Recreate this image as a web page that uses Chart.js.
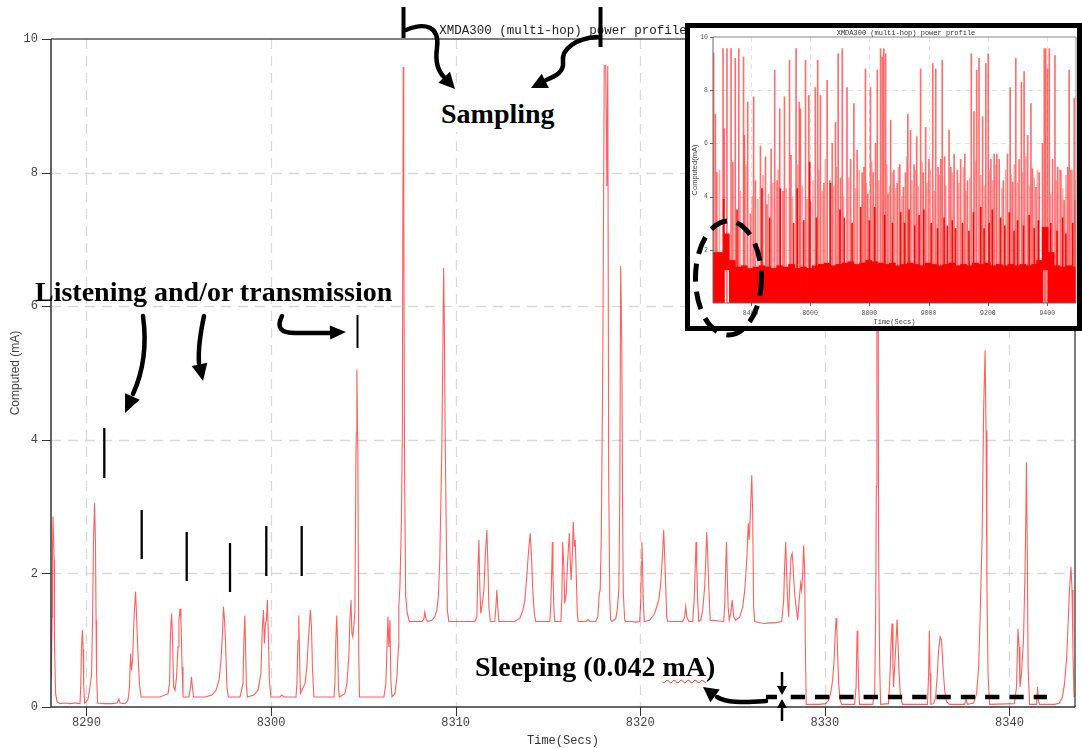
<!DOCTYPE html>
<html>
<head>
<meta charset="utf-8">
<script src="https://cdn.jsdelivr.net/npm/chart.js@4.4.1/dist/chart.umd.min.js"></script>
<style>
html,body{margin:0;padding:0;background:#fff;}
#wrap{position:relative;width:1082px;height:748px;overflow:hidden;background:#fff;}
#main{position:absolute;left:0;top:0;}
#title{position:absolute;left:339px;top:24px;width:448px;text-align:center;font-family:"Liberation Mono","DejaVu Sans Mono",monospace;font-size:12.5px;line-height:14px;color:#222;white-space:nowrap;}
.lbl{position:absolute;font-family:"Liberation Serif","Times New Roman",serif;font-weight:bold;font-size:28px;line-height:28px;color:#000;white-space:nowrap;}
#sampBox{position:absolute;left:422px;top:87px;width:161px;height:45px;background:#fff;}
#inset{position:absolute;left:685px;top:23px;width:397px;height:308px;box-sizing:border-box;border:5px solid #000;background:#fff;}
#insetCanvas{position:absolute;left:0;top:0;}
#insetTitle{position:absolute;left:0;top:1px;width:387px;padding-left:45px;box-sizing:border-box;text-align:center;font-family:"Liberation Mono","DejaVu Sans Mono",monospace;font-size:7px;line-height:8px;color:#333;white-space:nowrap;}
#overlay{position:absolute;left:0;top:0;pointer-events:none;}
.mA{text-decoration:underline wavy #e03030;text-decoration-thickness:1px;text-underline-offset:3px;}
</style>
</head>
<body>
<div id="wrap">
  <canvas id="main" width="1082" height="748"></canvas>
  <div id="title">XMDA300 (multi-hop) power profile</div>
  <div id="sampBox"></div>
  <div class="lbl" style="left:441px;top:100px;">Sampling</div>
  <div class="lbl" style="left:35px;top:278px;">Listening and/or transmission</div>
  <div class="lbl" style="left:475px;top:653px;">Sleeping (0.042 <span class="mA">mA</span>)</div>
  <div id="inset">
    <canvas id="insetCanvas" width="387" height="298"></canvas>
    <div id="insetTitle">XMDA300 (multi-hop) power profile</div>
  </div>
  <canvas id="overlay" width="1082" height="748"></canvas>
</div>
<script>
// ---------------- main chart data ----------------
const mainTime = [
8288.08,8288.11,8288.14,8288.16,8288.19,8288.25,8288.27,8288.33,8288.41,8288.57,8288.84,8289.11,8289.38,8289.65,8289.69,8289.73,8289.78,8289.82,8289.85,8289.90,8289.98,
8290.09,8290.19,8290.28,8290.33,8290.38,8290.44,8290.49,8290.52,8290.55,8290.60,8291.01,8291.39,8291.66,8291.76,8291.82,8292.09,8292.25,8292.33,8292.39,8292.44,8292.50,
8292.58,8292.66,8292.71,8292.79,8292.87,8292.96,8293.44,8293.98,8294.42,8294.50,8294.55,8294.61,8294.66,8294.72,8294.80,8294.88,8294.96,8295.01,8295.07,8295.12,8295.18,
8295.23,8295.55,8295.64,8295.69,8295.74,8295.80,8296.42,8296.80,8297.02,8297.18,8297.29,8297.37,8297.42,8297.48,8297.53,8297.61,8297.69,8298.32,8298.48,8298.53,8298.58,
8298.61,8298.66,8298.72,8299.07,8299.29,8299.45,8299.53,8299.59,8299.64,8299.70,8299.75,8299.80,8299.86,8299.91,8299.99,8300.48,8300.59,8300.70,8301.35,8301.40,8301.46,
8301.50,8301.54,8301.59,8301.67,8301.84,8301.94,8302.02,8302.08,8302.13,8302.19,8302.24,8302.32,8303.41,8303.46,8303.51,8303.56,8303.60,8303.65,8303.70,8304.00,8304.11,
8304.22,8304.27,8304.33,8304.38,8304.43,8304.54,8304.60,8304.62,8304.65,8304.70,8304.75,8304.79,8306.11,8306.22,8306.27,8306.33,8306.38,8306.44,8306.49,8306.55,8306.71,
8306.82,8306.90,8306.92,8306.98,8307.06,8307.11,8307.16,8307.19,8307.23,8307.29,8307.38,8307.49,8307.57,
8308.17,8308.28,8308.33,8308.39,8308.49,8308.71,8308.87,8308.98,8309.06,8309.14,8309.20,8309.25,8309.31,8309.35,8309.39,8309.44,8309.50,8309.55,8309.63,
8311.04,8311.15,8311.20,8311.26,8311.31,8311.36,8311.42,8311.53,8311.61,8311.69,8311.74,8311.80,8311.88,8312.12,8312.18,8312.23,8312.28,8312.34,
8313.20,8313.48,8313.64,8313.75,8313.85,8313.94,8314.04,8314.10,8314.18,8314.26,8314.34,8315.10,8315.15,8315.20,8315.24,8315.27,8315.32,8315.37,
8315.70,8315.75,8315.80,8315.86,8315.91,8315.99,8316.07,8316.16,8316.21,8316.26,8316.32,8316.37,8316.43,8316.48,8316.53,8316.59,8316.64,
8317.05,8317.16,8317.27,8317.59,8317.70,8317.78,8317.83,8317.89,8317.97,8318.05,8318.13,8318.19,8318.24,8318.29,8318.35,8318.40,8318.46,
8318.67,8318.75,8318.84,8318.89,8318.94,8319.00,8319.04,8319.08,8319.16,8319.21,8319.54,8319.76,8319.97,8320.03,8320.06,8320.09,8320.12,8320.16,8320.22,
8320.51,8320.78,8321.00,8321.11,8321.19,8321.27,8321.33,8321.38,8321.43,8321.49,8322.30,8322.41,8322.46,8322.52,8322.63,
8322.84,8322.92,8322.98,8323.02,8323.06,8323.11,8323.17,8323.28,8323.38,8323.49,8323.55,8323.60,8323.65,8323.71,8323.79,
8324.52,8324.57,8324.63,8324.67,8324.71,8324.76,8324.82,8324.90,8324.98,8325.06,8325.17,8325.39,8325.55,8325.66,8325.77,8325.85,8325.90,8325.95,8326.04,8326.09,8326.14,8326.20,
8326.47,8326.74,8327.01,8327.28,8327.66,8327.77,8327.82,8327.88,8327.93,8327.98,8328.04,8328.09,8328.17,8328.23,8328.28,8328.36,8328.44,8328.53,8328.61,8328.69,8328.74,8328.80,8328.85,8328.91,8328.94,8328.99,
8329.18,8329.72,8330.04,8330.20,8330.31,8330.42,8330.50,8330.56,8330.61,8330.65,8330.69,8330.75,8330.83,8330.91,8331.61,8331.69,8331.75,8331.79,8331.83,8331.88,
8332.59,8332.70,8332.75,8332.79,8332.82,8332.87,8332.91,8332.97,8333.02,8333.45,8333.53,8333.59,8333.64,8333.69,8333.72,8333.80,8333.86,8333.91,8333.97,8334.02,8334.10,8334.21,
8335.56,8335.62,8335.66,8335.70,8335.74,8335.89,8336.00,8336.08,8336.16,8336.24,8336.32,8336.40,8336.49,8336.59,8336.76,8337.57,8337.65,8337.73,
8338.06,8338.22,8338.33,8338.41,8338.52,8338.60,8338.68,8338.73,8338.78,8338.84,8338.92,8340.27,8340.38,8340.46,8340.52,8340.57,8340.65,8340.76,8340.84,8340.89,8340.92,8340.96,8341.01,8341.09,
8341.47,8341.52,8341.57,8341.63,8342.44,8342.71,8342.87,8342.98,8343.09,8343.17,8343.25,8343.33,8343.39,8343.44,8343.50
];
const mainCurrent = [
0.45,0.75,1.35,2.35,2.85,2.2,0.95,0.2,0.08,0.05,0.06,0.05,0.06,0.05,0.3,0.87,1.15,0.87,0.33,0.06,0.08,
0.12,0.3,0.5,1.3,2.45,3.05,2.45,1.3,0.5,0.06,0.05,0.05,0.06,0.12,0.06,0.05,0.1,0.3,0.8,0.55,0.7,
1.35,1.73,1.4,0.8,0.35,0.15,0.15,0.15,0.2,0.35,1.07,1.4,1.07,0.3,0.25,0.45,0.9,1.3,1.47,1.3,0.6,
0.15,0.15,0.3,0.45,0.3,0.15,0.15,0.18,0.25,0.4,0.7,1.1,1.5,1.3,1.0,0.3,0.15,0.15,0.35,1.0,1.37,
1.0,0.35,0.15,0.18,0.25,0.5,1.2,1.45,0.95,1.25,1.3,1.6,1.0,0.4,0.15,0.15,0.18,0.15,0.15,0.35,1.0,
1.37,0.8,0.2,0.25,0.35,0.6,1.0,1.25,1.45,1.2,0.6,0.15,0.15,0.35,1.0,1.37,1.0,0.3,0.15,0.2,0.35,
0.8,1.3,1.6,1.1,1.05,1.4,3.8,4.1,5.05,3.85,0.8,0.15,0.15,0.35,0.8,1.35,0.9,1.3,0.4,0.15,0.2,
0.45,0.9,1.5,1.8,2.75,4.0,9.58,7.6,3.65,1.67,1.4,1.28,1.28,
1.28,1.32,1.42,1.32,1.28,1.3,1.35,1.45,1.65,2.2,3.1,3.85,5.4,6.57,5.64,3.85,2.4,1.45,1.28,
1.28,1.35,2.0,2.5,1.8,1.4,1.5,1.75,2.3,2.65,2.2,1.5,1.28,1.28,1.5,1.75,1.5,1.28,
1.28,1.33,1.45,1.6,1.95,2.3,2.6,2.3,1.75,1.4,1.28,1.28,1.5,2.0,2.47,2.0,1.5,1.28,
1.28,1.6,2.47,2.1,1.55,1.7,2.2,2.6,2.15,1.9,2.3,2.77,2.4,2.5,2.0,1.4,1.28,
1.28,1.31,1.28,1.28,1.35,1.7,1.75,2.57,5.2,9.6,9.6,7.8,9.6,3.4,1.6,1.3,1.28,
1.32,1.45,1.75,3.1,6.6,5.4,3.1,1.7,1.3,1.28,1.28,1.27,1.28,1.6,2.17,2.47,2.17,1.6,1.28,
1.3,1.4,1.6,1.85,2.2,2.65,2.2,1.8,1.35,1.28,1.28,1.35,1.5,1.35,1.28,
1.28,1.6,2.1,2.47,2.1,1.6,1.28,1.3,1.45,1.8,2.2,2.62,2.3,1.8,1.3,
1.28,1.5,2.1,2.47,2.0,1.5,1.3,1.4,1.6,1.35,1.3,1.35,1.5,1.75,2.2,2.75,2.5,2.8,3.47,2.9,1.5,1.28,
1.26,1.25,1.26,1.26,1.28,1.6,2.1,2.47,2.0,1.6,1.35,1.8,2.25,2.3,2.1,1.7,1.5,1.3,1.6,1.85,1.75,2.0,2.42,2.0,1.0,0.04,
0.04,0.04,0.05,0.1,0.2,0.4,0.7,1.1,1.33,1.15,0.8,0.35,0.1,0.04,0.04,0.3,1.14,0.8,0.3,0.04,
0.04,0.2,1.4,3.3,9.6,9.6,2.42,0.6,0.04,0.05,0.5,1.0,1.25,0.6,0.3,0.7,1.0,1.31,0.9,0.5,0.15,0.04,
0.04,0.5,1.14,0.5,0.04,0.05,0.15,0.45,0.85,1.05,1.0,0.6,0.25,0.08,0.04,0.04,0.12,0.04,
0.06,0.2,0.6,1.34,2.57,4.44,5.34,4.14,1.8,0.5,0.04,0.05,0.3,1.17,0.9,0.3,0.5,1.0,2.0,2.9,3.66,2.5,0.6,0.04,
0.04,0.3,0.1,0.04,0.04,0.06,0.15,0.35,0.7,1.2,1.75,2.1,1.75,0.8,0.15
];
const xTickValues = [8290, 8300, 8310, 8320, 8330, 8340];
const yTickValues = [0, 2, 4, 6, 8, 10];

// ---------------- inset chart data ----------------
const insetXTicks = [8400, 8600, 8800, 9000, 9200, 9400];
const insetYTicks = [2, 4, 6, 8, 10];
const insetDenseTime = [8278,8298,8318,8338,8358,8378,8398,8418,8438,8458,8478,8498,8518,8538,8558,8578,8598,8618,8638,8658,8678,8698,8718,8738,8758,8778,8798,8818,8838,8858,8878,8898,8918,8938,8958,8978,8998,9018,9038,9058,9078,9098,9118,9138,9158,9178,9198,9218,9238,9258,9278,9298,9318,9338,9358,9374,9393,9413,9433,9453,9473,9493];
const insetDenseLow  = [0,0,1.25,0,0,0,0,0,0,0,0,0,0,0,0,0,0,0,0,0,0,0,0,0,0,0,0,0,0,0,0,0,0,0,0,0,0,0,0,0,0,0,0,0,0,0,0,0,0,0,0,0,0,0,0,0,1.25,0,0,0,0,0];
const insetDenseHigh = [1.9,1.9,2.6,1.6,1.35,1.4,1.3,1.35,1.4,1.35,1.3,1.4,1.35,1.45,1.3,1.35,1.3,1.4,1.45,1.5,1.4,1.45,1.5,1.55,1.45,1.5,1.6,1.55,1.5,1.45,1.5,1.4,1.45,1.5,1.45,1.4,1.5,1.45,1.4,1.45,1.5,1.4,1.45,1.4,1.5,1.45,1.5,1.4,1.45,1.4,1.45,1.4,1.45,1.4,1.45,1.6,2.85,1.9,1.4,1.35,1.4,1.35];
const insetSpikeTime = [8275,8281,8286,8307,8311,8320,8334,8340,8348,8360,8376,8379,8390,8399,8410,8416,8433,8450,8455,8469,8481,8489,8498,8509,8514,8531,8536,8553,8564,8568,8585,8596,8602,8618,8626,8635,8647,8658,8667,8675,8686,8695,8703,8709,8725,8737,8748,8759,8776,8782,8787,8795,8804,8813,8821,8827,8838,8844,8849,8855,8863,8872,8883,8894,8903,8915,8922,8930,8939,8951,8960,8973,8982,8990,9001,9014,9024,9032,9041,9046,9054,9069,9075,9086,9097,9108,9122,9131,9144,9153,9162,9170,9182,9193,9201,9210,9221,9230,9238,9252,9266,9275,9283,9294,9305,9313,9322,9334,9345,9350,9362,9373,9384,9390,9395,9401,9407,9418,9426,9435,9446,9457,9469,9474,9480,9491,9494];
const insetSpikeHigh = [9.4,7.1,4.9,9.56,6.55,9.56,9.56,5.3,9.2,9.56,9.25,6.3,7.55,3.36,7.75,4.6,5.9,5.5,3.7,5.8,8.75,4.6,7.3,4.2,7.75,9.12,5.55,9.56,7.55,7.3,9.12,7.8,3.8,8.1,9.12,7.8,4.5,8.37,4.6,6.0,6.8,9.37,4.7,9.56,8.1,5.4,7.5,5.74,4.9,5.1,8.8,4.1,8.1,4.9,6.0,8.75,9.56,9.25,9.56,9.37,4.1,6.87,5.0,4.5,5.2,4.35,4.9,7.1,6.5,5.2,6.25,8.8,4.9,6.6,5.4,9.0,8.8,5.1,5.4,9.12,5.5,6.5,5.1,5.6,5.0,5.4,5.6,4.6,9.37,7.2,8.75,9.2,7.0,9.0,9.37,5.4,5.6,5.6,5.4,4.6,5.6,8.1,4.55,9.2,5.4,8.3,8.7,6.3,7.5,5.05,4.35,4.9,6.0,9.56,9.56,8.8,9.56,5.4,9.3,5.1,5.0,3.86,5.1,8.75,5.0,7.7,3.86];
const insetLightTime = [8295,8365,8384,8405,8424,8442,8460,8475,8493,8520,8541,8559,8574,8590,8610,8630,8641,8652,8680,8690,8713,8731,8753,8766,8790,8808,8832,8859,8868,8878,8888,8898,8910,8926,8944,8956,8965,8978,8995,9006,9019,9036,9058,9081,9102,9117,9126,9139,9158,9176,9188,9206,9216,9226,9247,9260,9279,9289,9300,9317,9328,9340,9356,9367,9412,9431,9441,9452,9463,9485,9497];
const insetLightHigh = [5.0,4.2,5.2,4.0,3.9,4.8,4.1,4.5,5.0,4.3,4.0,5.2,4.4,3.9,4.6,5.0,4.2,5.4,4.4,5.1,4.0,4.7,4.3,5.0,4.5,5.3,4.6,5.2,4.4,4.9,4.3,5.1,4.0,5.5,4.6,5.0,4.4,5.3,4.5,5.0,4.2,4.8,4.4,4.9,4.5,5.1,4.2,4.7,5.3,4.8,4.4,5.0,4.6,5.2,4.3,5.0,4.8,5.2,4.5,4.9,5.5,4.4,4.7,5.0,4.1,4.6,5.0,4.3,4.8,5.0,4.6];
const insetMidTime = [8309,8354,8438,8464,8500,8545,8557,8579,8599,8622,8669,8701,8716,8742,8771,8800,8818,8852,8878,8906,8919,8934,8953,8968,8984,9009,9030,9052,9063,9080,9091,9114,9136,9151,9176,9187,9204,9215,9243,9257,9272,9288,9300,9320,9339,9356,9370,9412,9433,9452,9463,9486];
const insetMidHigh = [3.9,3.5,4.3,3.2,4.3,3.0,4.3,3.1,5.3,3.2,4.5,3.5,3.2,3.0,3.6,3.1,3.6,3.3,3.0,3.4,3.0,3.5,2.9,3.3,3.5,3.0,2.8,3.2,2.9,3.1,2.8,3.0,2.7,3.4,3.6,2.8,3.0,3.5,3.2,2.9,3.4,2.7,3.1,2.9,3.3,2.8,3.1,3.0,2.7,3.2,2.6,3.0];

Chart.defaults.font.family = '"Liberation Mono", "DejaVu Sans Mono", monospace';
Chart.defaults.animation = false;

function framePlugin(id, xt, yt, opt) {
  return {
    id: id,
    beforeDatasetsDraw(chart) {
      const {ctx, chartArea: a, scales: {x, y}} = chart;
      ctx.save();
      ctx.strokeStyle = opt.gridColor; ctx.lineWidth = opt.gridWidth;
      ctx.setLineDash(opt.dash);
      xt.forEach(v => {
        const px = Math.round(x.getPixelForValue(v)) + 0.5;
        ctx.beginPath(); ctx.moveTo(px, a.top); ctx.lineTo(px, a.bottom); ctx.stroke();
      });
      yt.forEach(v => {
        if (v <= 0 || v >= 10) return;
        const py = Math.round(y.getPixelForValue(v)) + 0.5;
        ctx.beginPath(); ctx.moveTo(a.left, py); ctx.lineTo(a.right, py); ctx.stroke();
      });
      ctx.restore();
    },
    afterDatasetsDraw(chart) {
      const {ctx, chartArea: a, scales: {x, y}} = chart;
      ctx.save();
      ctx.setLineDash([]);
      ctx.lineWidth = opt.frameWidth;
      ctx.strokeStyle = opt.frameColor;
      ctx.beginPath();
      ctx.moveTo(a.left, a.top); ctx.lineTo(a.right, a.top);
      ctx.moveTo(a.right, a.top); ctx.lineTo(a.right, a.bottom);
      ctx.stroke();
      ctx.strokeStyle = opt.axisColor;
      ctx.beginPath();
      ctx.moveTo(a.left, a.top); ctx.lineTo(a.left, a.bottom); ctx.lineTo(a.right, a.bottom);
      ctx.stroke();
      ctx.lineWidth = 1;
      ctx.beginPath();
      xt.forEach(v => {
        const px = Math.round(x.getPixelForValue(v)) + 0.5;
        ctx.moveTo(px, a.bottom); ctx.lineTo(px, a.bottom + opt.tick);
      });
      yt.forEach(v => {
        const py = Math.round(y.getPixelForValue(v)) + 0.5;
        ctx.moveTo(a.left - opt.tick, py); ctx.lineTo(a.left, py);
      });
      ctx.stroke();
      ctx.restore();
    }
  };
}

new Chart(document.getElementById('main'), {
  type: 'line',
  data: {
    datasets: [{
      data: mainTime.map((t, i) => ({x: t, y: mainCurrent[i]})),
      borderColor: 'rgba(255,20,20,0.68)',
      borderWidth: 1.1,
      pointRadius: 0,
      tension: 0,
      fill: false
    }]
  },
  options: {
    responsive: false, animation: false, devicePixelRatio: 1, events: [],
    layout: {padding: {left: 0, right: 7, top: 39, bottom: 0}},
    plugins: {legend: {display: false}, tooltip: {enabled: false}},
    scales: {
      x: {
        type: 'linear', min: 8288.08, max: 8343.55,
        afterBuildTicks: s => { s.ticks = xTickValues.map(v => ({value: v})); },
        afterFit: s => { s.height = 41; },
        grid: {display: false, drawTicks: false},
        border: {display: false},
        ticks: {padding: 9, autoSkip: false, maxRotation: 0, color: '#444', font: {size: 12}, callback: v => String(v)},
        title: {display: true, text: 'Time(Secs)', color: '#333', font: {size: 12}, padding: {top: 0, bottom: 0}}
      },
      y: {
        type: 'linear', min: 0, max: 10,
        afterBuildTicks: s => { s.ticks = yTickValues.map(v => ({value: v})); },
        afterFit: s => { s.width = 51; },
        grid: {display: false, drawTicks: false},
        border: {display: false},
        ticks: {padding: 13, color: '#444', font: {size: 12}, callback: v => String(v)},
        title: {display: true, text: 'Computed (mA)', color: '#444', font: {family: '"Liberation Sans", Arial, sans-serif', size: 12}, padding: {top: 8, bottom: 0}}
      }
    }
  },
  plugins: [framePlugin('mainFrame', xTickValues, yTickValues, {gridColor: '#d9d9d9', gridWidth: 1.3, dash: [10, 7], frameColor: '#555', axisColor: '#333', frameWidth: 1.5, tick: 9})]
});

new Chart(document.getElementById('insetCanvas'), {
  type: 'bar',
  data: {
    datasets: [
      {data: insetDenseTime.map((t, i) => ({x: t, y: [insetDenseLow[i], insetDenseHigh[i]]})), backgroundColor: '#ff0000', borderWidth: 0, barThickness: 6, grouped: false},
      {data: insetMidTime.map((t, i) => ({x: t, y: insetMidHigh[i]})), backgroundColor: 'rgba(235,0,0,0.9)', borderWidth: 0, barThickness: 1, grouped: false},
      {data: insetLightTime.map((t, i) => ({x: t, y: insetLightHigh[i]})), backgroundColor: 'rgba(255,90,90,0.55)', borderWidth: 0, barThickness: 1, grouped: false},
      {data: insetSpikeTime.map((t, i) => ({x: t, y: insetSpikeHigh[i]})), backgroundColor: 'rgba(255,50,50,0.7)', borderWidth: 0, barThickness: 1, grouped: false}
    ]
  },
  options: {
    responsive: false, animation: false, devicePixelRatio: 1, events: [],
    layout: {padding: {left: 0, right: 1, top: 9, bottom: 0}},
    plugins: {legend: {display: false}, tooltip: {enabled: false}},
    scales: {
      x: {
        type: 'linear', min: 8273, max: 9497, offset: false,
        afterBuildTicks: s => { s.ticks = insetXTicks.map(v => ({value: v})); },
        afterFit: s => { s.height = 23; },
        grid: {display: false, drawTicks: false},
        border: {display: false},
        ticks: {padding: 6, autoSkip: false, maxRotation: 0, color: '#555', font: {size: 6.5}, callback: v => String(v)},
        title: {display: true, text: 'Time(Secs)', color: '#444', font: {size: 7}, padding: {top: 0, bottom: 0}}
      },
      y: {
        type: 'linear', min: 0, max: 10,
        afterBuildTicks: s => { s.ticks = insetYTicks.map(v => ({value: v})); },
        afterFit: s => { s.width = 23; },
        grid: {display: false, drawTicks: false},
        border: {display: false},
        ticks: {padding: 5, color: '#555', font: {size: 6.5}, callback: v => String(v)},
        title: {display: true, text: 'Computed(mA)', color: '#444', font: {family: '"Liberation Sans", Arial, sans-serif', size: 7.5}, padding: {top: 0, bottom: 0}}
      }
    }
  },
  plugins: [framePlugin('insetFrame', insetXTicks, insetYTicks, {gridColor: '#e2e2e2', gridWidth: 1, dash: [5, 4], frameColor: '#888', axisColor: '#666', frameWidth: 1, tick: 3})]
});

// ---------------- annotation overlay ----------------
(function () {
  const c = document.getElementById('overlay');
  const ctx = c.getContext('2d');
  ctx.strokeStyle = '#000'; ctx.fillStyle = '#000';
  ctx.lineCap = 'round'; ctx.lineJoin = 'round';

  function head(tx, ty, fx, fy, len, half) {
    const dx = tx - fx, dy = ty - fy, d = Math.hypot(dx, dy), ux = dx / d, uy = dy / d;
    const bx = tx - ux * len, by = ty - uy * len;
    ctx.beginPath();
    ctx.moveTo(tx, ty);
    ctx.lineTo(bx - uy * half, by + ux * half);
    ctx.lineTo(bx + uy * half, by - ux * half);
    ctx.closePath(); ctx.fill();
  }
  function vline(x, y1, y2, w) {
    ctx.lineWidth = w; ctx.beginPath(); ctx.moveTo(x, y1); ctx.lineTo(x, y2); ctx.stroke();
  }

  ctx.lineCap = 'butt';
  vline(403.5, 7, 38, 4);
  vline(600.5, 7, 47, 4);
  ctx.lineCap = 'round';

  ctx.lineWidth = 4.5;
  ctx.beginPath(); ctx.moveTo(406, 30);
  ctx.bezierCurveTo(425, 22, 440, 26, 437, 48);
  ctx.bezierCurveTo(435, 62, 438, 71, 444, 77);
  ctx.stroke();
  head(455, 89, 443, 76, 16, 8);

  ctx.beginPath(); ctx.moveTo(597, 37);
  ctx.bezierCurveTo(578, 38, 561, 48, 563, 62);
  ctx.bezierCurveTo(564, 72, 556, 76, 546, 80);
  ctx.stroke();
  head(531, 88, 547, 80, 16, 8);

  ctx.beginPath(); ctx.moveTo(143, 316);
  ctx.bezierCurveTo(147, 345, 143, 372, 133, 394);
  ctx.stroke();
  head(125, 413, 134, 393, 18, 8);

  ctx.beginPath(); ctx.moveTo(204, 316);
  ctx.bezierCurveTo(200, 335, 198, 350, 199, 363);
  ctx.stroke();
  head(203, 381, 199, 362, 17, 8);

  ctx.beginPath(); ctx.moveTo(282, 316);
  ctx.bezierCurveTo(276, 328, 281, 333, 295, 333);
  ctx.lineTo(331, 333);
  ctx.stroke();
  head(346, 332, 330, 332.5, 16, 7);

  ctx.lineCap = 'butt';
  vline(357.5, 315, 348, 2);

  [[104.3, 428, 478], [141.7, 510, 559], [186.7, 532, 581], [230, 543, 592], [266.3, 526, 576], [301.7, 526, 576]]
    .forEach(m => vline(m[0], m[1], m[2], 2.3));

  ctx.lineCap = 'round';
  ctx.lineWidth = 4.5;
  ctx.beginPath(); ctx.moveTo(766, 701);
  ctx.bezierCurveTo(745, 702, 729, 704, 717, 697);
  ctx.stroke();
  head(703, 687, 718, 698, 15, 8);

  ctx.lineCap = 'butt';
  ctx.lineWidth = 4.5;
  ctx.beginPath(); ctx.moveTo(766, 697); ctx.lineTo(777, 697); ctx.stroke();
  ctx.setLineDash([14.3, 10]);
  ctx.beginPath(); ctx.moveTo(790.7, 697); ctx.lineTo(1047, 697); ctx.stroke();
  ctx.setLineDash([]);

  vline(782, 672, 688, 2.5);
  head(782, 695, 782, 686, 9, 5);
  vline(782, 721, 706, 2.5);
  head(782, 699, 782, 708, 9, 5);

  ctx.lineWidth = 5;
  ctx.setLineDash([18, 10]);
  ctx.beginPath();
  ctx.ellipse(728.5, 278, 33, 57, 0, 0, Math.PI * 2);
  ctx.stroke();
  ctx.setLineDash([]);
})();
</script>
</body>
</html>
